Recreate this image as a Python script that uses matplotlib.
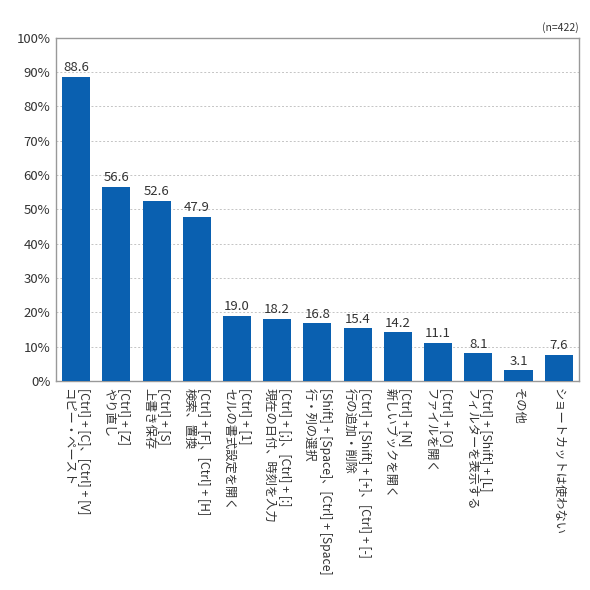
import matplotlib
matplotlib.use("Agg")
import matplotlib.pyplot as plt

plt.rcParams['font.family'] = ['Noto Sans CJK JP', 'DejaVu Sans']

labels = [
    "[Ctrl] + [C]、[Ctrl] + [V]\nコピー・ペースト",
    "[Ctrl] + [Z]\nやり直し",
    "[Ctrl] + [S]\n上書き保存",
    "[Ctrl] + [F]、[Ctrl] + [H]\n検索、置換",
    "[Ctrl] + [1]\nセルの書式設定を開く",
    "[Ctrl] + [;]、[Ctrl] + [:]\n現在の日付、時刻を入力",
    "[Shift] + [Space]、[Ctrl] + [Space]\n行・列の選択",
    "[Ctrl] + [Shift] + [+]、[Ctrl] + [-]\n行の追加・削除",
    "[Ctrl] + [N]\n新しいブックを開く",
    "[Ctrl] + [O]\nファイルを開く",
    "[Ctrl] + [Shift] + [L]\nフィルターを表示する",
    "その他",
    "ショートカットは使わない",
]
values = [88.6, 56.6, 52.6, 47.9, 19.0, 18.2, 16.8, 15.4, 14.2, 11.1, 8.1, 3.1, 7.6]
yticks = [0, 10, 20, 30, 40, 50, 60, 70, 80, 90, 100]

text_color = "#333333"
bar_color = "#0a60b0"

fig = plt.figure(figsize=(5.9, 5.9), dpi=100)
ax = fig.add_axes([0.095, 0.354, 0.886, 0.582])

x = list(range(len(values)))
ax.bar(x, values, width=0.7, color=bar_color, zorder=3)

for xi, v in zip(x, values):
    ax.text(xi, v + 0.8, f"{v:.1f}", ha="center", va="bottom",
            fontsize=9.5, color=text_color, zorder=4)

ax.set_xlim(-0.5, len(values) - 0.5)
ax.set_ylim(0, 100)
ax.set_yticks(yticks)
ax.set_yticklabels([f"{t}%" for t in yticks], fontsize=9.5, color=text_color)
ax.set_xticks(x)
ax.set_xticklabels(labels, rotation=-90, ha="center", va="top",
                   multialignment="left", fontsize=8.8, color=text_color,
                   linespacing=1.3)
ax.tick_params(axis="both", length=0)
ax.tick_params(axis="x", pad=5)
ax.tick_params(axis="y", pad=4)

for t in yticks[1:-1]:
    ax.axhline(t, color="#c4c4c4", linestyle=(0, (2, 2)), linewidth=0.7, zorder=1)

for s in ax.spines.values():
    s.set_color("#999999")
    s.set_linewidth(1.0)

fig.text(0.981, 0.953, "(n=422)", ha="right", va="center",
         fontsize=7.5, color=text_color)

fig.savefig("out.png", dpi=100)
